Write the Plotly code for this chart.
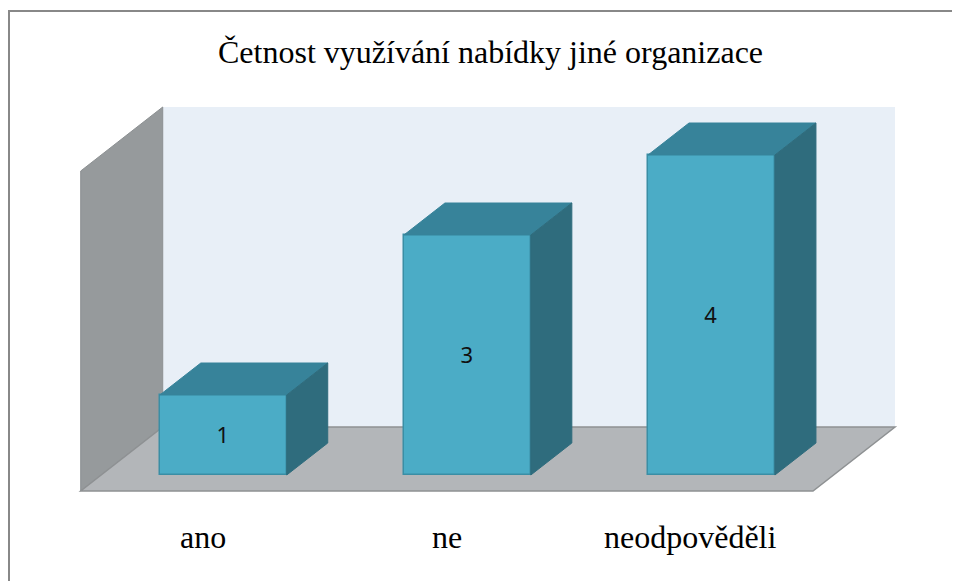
import plotly.graph_objects as go

# ---- data ----
categories = ["ano", "ne", "neodpověděli"]
values = [1, 3, 4]
title_text = "Četnost využívání nabídky jiné organizace"
axis_max = 4

# ---- style / projection parameters ----
W, H = 960, 581
ML, MR, MT, MB = 40, 20, 90, 81
X_RANGE = [-0.634, 3.053]
Y_RANGE = [-0.2125, 4.9125]
DX, DY = 0.336, 0.8          # oblique offset for full floor depth (data units)
Z0, Z1 = 0.25, 0.75          # depth span occupied by bars
BAR_W = 0.52

FRONT = "#4BACC6"
TOP = "#37839A"
SIDE = "#2F6C7D"
EDGE = "#3A8EA5"
BACKWALL = "#E8EFF7"
LEFTWALL = "#969A9C"
FLOOR = "#B3B6B9"
SERIF = "Liberation Serif"

n = len(categories)
xs = list(range(n))
pw = W - ML - MR
ph = H - MT - MB

fig = go.Figure()

# front faces as bars
fig.add_trace(go.Bar(
    x=[i + Z0 * DX for i in xs],
    y=values,
    base=[Z0 * DY] * n,
    width=BAR_W,
    marker=dict(color=FRONT, line=dict(color=EDGE, width=1.5)),
    text=[str(v) for v in values],
    textposition="inside",
    insidetextanchor="middle",
    textangle=0,
    textfont=dict(family="Noto Sans", size=22, color="#111111"),
    hoverinfo="skip",
    showlegend=False,
))

ddx = (Z1 - Z0) * DX
ddy = (Z1 - Z0) * DY
for i, v in zip(xs, values):
    xl = i - BAR_W / 2 + Z0 * DX
    xr = xl + BAR_W
    yb = Z0 * DY
    yt = yb + v
    # top face
    fig.add_trace(go.Scatter(
        x=[xl, xl + ddx, xr + ddx, xr, xl],
        y=[yt, yt + ddy, yt + ddy, yt, yt],
        fill="toself", fillcolor=TOP, mode="lines",
        line=dict(color=TOP, width=1), hoverinfo="skip", showlegend=False))
    # side face
    fig.add_trace(go.Scatter(
        x=[xr, xr, xr + ddx, xr + ddx, xr],
        y=[yb, yt, yt + ddy, yb + ddy, yb],
        fill="toself", fillcolor=SIDE, mode="lines",
        line=dict(color=SIDE, width=1), hoverinfo="skip", showlegend=False))

x0, x1 = -0.5, n - 0.5
shapes = [
    # back wall
    dict(type="rect", xref="x", yref="y", x0=x0 + DX, x1=x1 + DX, y0=DY, y1=DY + axis_max,
         fillcolor=BACKWALL, line=dict(width=0), layer="below"),
    # left wall
    dict(type="path", xref="x", yref="y",
         path=f"M {x0},0 L {x0},{axis_max} L {x0+DX},{axis_max+DY} L {x0+DX},{DY} Z",
         fillcolor=LEFTWALL, line=dict(color="#8C9092", width=1), layer="below"),
    # floor
    dict(type="path", xref="x", yref="y",
         path=f"M {x0},0 L {x1},0 L {x1+DX},{DY} L {x0+DX},{DY} Z",
         fillcolor=FLOOR, line=dict(color="#8E9193", width=1.5), layer="below"),
]

# outer chart border (left and top visible)
bx0 = (1 - ML) / pw
by1 = 1 + (MT - 3) / ph
shapes.append(dict(type="rect", xref="paper", yref="paper",
                   x0=bx0, x1=(W + 40 - ML) / pw, y0=-(MB + 40) / ph, y1=by1,
                   line=dict(color="#888888", width=2), fillcolor="rgba(0,0,0,0)",
                   layer="below"))

annotations = [dict(text=title_text, xref="paper", yref="paper",
                    x=(482 - ML) / pw, y=1 + (MT - 44) / ph,
                    xanchor="center", yanchor="middle", showarrow=False,
                    font=dict(family=SERIF, size=32, color="black"))]
for i, c in zip(xs, categories):
    annotations.append(dict(text=c, xref="x", yref="paper", x=i, y=-29 / ph,
                            xanchor="center", yanchor="middle", showarrow=False,
                            font=dict(family=SERIF, size=32, color="black")))

fig.update_layout(
    width=W, height=H,
    margin=dict(l=ML, r=MR, t=MT, b=MB),
    font=dict(family=SERIF, color="black"),
    paper_bgcolor="white", plot_bgcolor="rgba(0,0,0,0)",
    xaxis=dict(range=X_RANGE, tickmode="array", tickvals=xs, ticktext=categories,
               showticklabels=False,
               showgrid=False, zeroline=False, showline=False, ticks="",
               fixedrange=True),
    yaxis=dict(range=Y_RANGE, visible=False, showgrid=False, zeroline=False, fixedrange=True),
    shapes=shapes,
    annotations=annotations,
    bargap=0,
)

fig.write_html("out.html")
